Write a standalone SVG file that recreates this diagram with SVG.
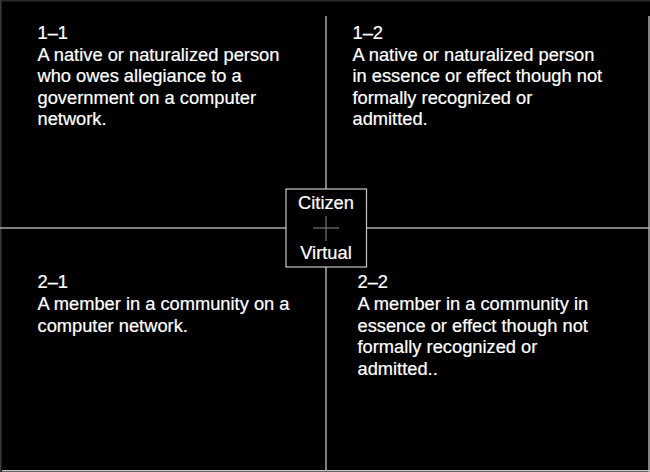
<svg xmlns="http://www.w3.org/2000/svg" width="650" height="472" viewBox="0 0 650 472">
<style>
.t{font-family:"Liberation Sans",Arial,Helvetica,sans-serif;font-size:18.3px;fill:#ffffff;stroke:#ffffff;stroke-width:0.2}
.c{text-anchor:middle}
.ln{stroke:#a8a8a8;stroke-width:1.5;fill:none}
.fr{fill:none;stroke-width:1.5}
</style>
<rect x="0" y="0" width="650" height="472" fill="#000000"/>
<g id="frame">
<line class="fr" x1="0" y1="0.75" x2="650" y2="0.75" stroke="#2a2a2a"/>
<line class="fr" x1="0.75" y1="0" x2="0.75" y2="472" stroke="#3a3a3a"/>
<line class="fr" x1="649" y1="16" x2="649" y2="472" stroke="#b0b0b0"/>
<line class="fr" x1="2" y1="470.75" x2="650" y2="470.75" stroke="#c8c8c8"/>
</g>
<g id="connectors">
<line class="ln" x1="326" y1="16" x2="326" y2="189"/>
<line class="ln" x1="326" y1="267" x2="326" y2="471"/>
<line class="ln" x1="0" y1="228" x2="286" y2="228"/>
<line class="ln" x1="367" y1="228" x2="650" y2="228"/>
</g>
<g id="center">
<rect x="286" y="189" width="80.5" height="78" fill="#000000" stroke="#c8c8c8" stroke-width="1.2"/>
<line x1="313" y1="228" x2="339" y2="228" stroke="#8a8a8a" stroke-width="1"/>
<line x1="326" y1="216" x2="326" y2="241" stroke="#8a8a8a" stroke-width="1"/>
<text class="t c" x="326" y="209">Citizen</text>
<text class="t c" x="326" y="259">Virtual</text>
</g>
<g id="q11">
<text class="t" x="37.5" y="38.5">1–1</text>
<text class="t" x="37.5" y="60.5">A native or naturalized person</text>
<text class="t" x="37.5" y="82">who owes allegiance to a</text>
<text class="t" x="37.5" y="103.5">government on a computer</text>
<text class="t" x="37.5" y="125">network.</text>
</g>
<g id="q12">
<text class="t" x="352.5" y="38.5">1–2</text>
<text class="t" x="352.5" y="60.5">A native or naturalized person</text>
<text class="t" x="352.5" y="82">in essence or effect though not</text>
<text class="t" x="352.5" y="103.5">formally recognized or</text>
<text class="t" x="352.5" y="125">admitted.</text>
</g>
<g id="q21">
<text class="t" x="37.5" y="288">2–1</text>
<text class="t" x="37.5" y="310">A member in a community on a</text>
<text class="t" x="37.5" y="331.5">computer network.</text>
</g>
<g id="q22">
<text class="t" x="357.5" y="288">2–2</text>
<text class="t" x="357.5" y="310">A member in a community in</text>
<text class="t" x="357.5" y="331.5">essence or effect though not</text>
<text class="t" x="357.5" y="353">formally recognized or</text>
<text class="t" x="357.5" y="375">admitted..</text>
</g>
</svg>
